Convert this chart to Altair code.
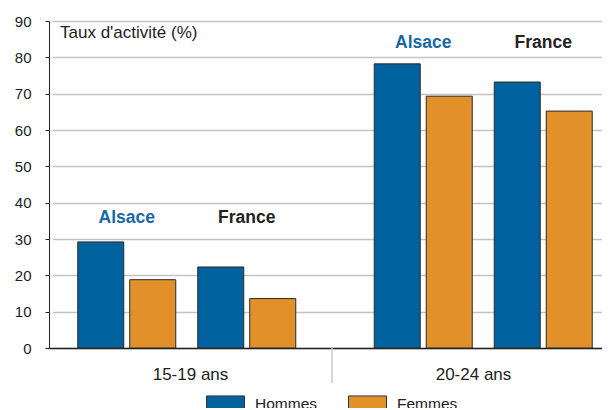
import altair as alt
import pandas as pd

ages = ["15-19 ans", "20-24 ans"]
regions = ["Alsace", "France"]
sexes = ["Hommes", "Femmes"]
# values ordered: (15-19, Alsace), (15-19, France), (20-24, Alsace), (20-24, France)
hommes = [29.2, 22.3, 78.2, 73.2]
femmes = [18.8, 13.6, 69.3, 65.2]
label_y = [35.7, 83.9]  # height of the region labels per age group
y_ticks = [0, 10, 20, 30, 40, 50, 60, 70, 80, 90]

rows = []
i = 0
for a in ages:
    for r in regions:
        rows.append({"age": a, "region": r, "sex": "Hommes", "value": hommes[i]})
        rows.append({"age": a, "region": r, "sex": "Femmes", "value": femmes[i]})
        i += 1
df = pd.DataFrame(rows)

lab = pd.DataFrame([{"age": a, "region": r, "y": label_y[k]}
                    for k, a in enumerate(ages) for r in regions])
sep = pd.DataFrame({"age": ages[1:]})

BLUE = "#00629e"
ORANGE = "#e2902a"
FONT = "Liberation Sans"
W, H = 553, 327
XR = [0, 566]       # the category axis runs past the right edge of the picture
XR_BARS = [3, 569]  # bar clusters sit slightly right of the category bands

region_shift = {"Alsace": -60, "France": 60}
sex_shift = {"Hommes": -26, "Femmes": 26}

xbars = alt.X("age:N", sort=ages, axis=None,
              scale=alt.Scale(domain=ages, range=XR_BARS, paddingInner=0.19,
                              paddingOuter=0.0495))
yaxis = alt.Axis(values=y_ticks, title="Taux d'activité (%)", titleAngle=0,
                 titleAlign="left", titleBaseline="top", titleX=10.5, titleY=3.6,
                 titleFont=FONT, titleFontSize=17,
                 titleFontWeight="normal", titleColor="#222",
                 labelFont=FONT, labelFontSize=15, labelColor="#222",
                 labelPadding=14, tickSize=4, tickColor="#222",
                 domainColor="#222", grid=True, gridColor="#c4c4c4",
                 gridWidth=1.5)
yscale = alt.Scale(domain=[0, 90], nice=False)
color = alt.Color("sex:N", scale=alt.Scale(domain=sexes, range=[BLUE, ORANGE]),
                  legend=alt.Legend(title=None, orient="none", direction="horizontal",
                                    legendX=157, legendY=363.5,
                                    symbolType="M-1,-0.45H1V0.45H-1Z", symbolSize=1444,
                                    symbolStrokeColor="#333", symbolStrokeWidth=1,
                                    labelFont=FONT, labelFontSize=15.5, labelColor="#222",
                                    columnPadding=28, labelOffset=10))

layers = []
for r in regions:
    for s in sexes:
        layers.append(
            alt.Chart(df).transform_filter(
                (alt.datum.sex == s) & (alt.datum.region == r)
            ).mark_bar(width=46, xOffset=region_shift[r] + sex_shift[s],
                       stroke="#2a2a2a", strokeWidth=1).encode(
                x=xbars,
                y=alt.Y("value:Q", stack=None, scale=yscale, axis=yaxis),
                color=color)
        )
for r in regions:
    layers.append(
        alt.Chart(lab).transform_filter(alt.datum.region == r).mark_text(
            font=FONT, fontSize=17.5, fontWeight="bold", baseline="middle",
            xOffset=region_shift[r],
            color="#1a68a3" if r == "Alsace" else "#222").encode(
            x=xbars,
            y=alt.Y("y:Q", scale=yscale, axis=yaxis),
            text=alt.Text("region:N"))
    )

inner = alt.layer(*layers)

rule = alt.Chart(sep).mark_rule(color="#c8c8c8", strokeWidth=1.5).encode(
    x=alt.X("age:N", sort=ages, bandPosition=0, title=None,
            scale=alt.Scale(domain=ages, range=XR, paddingInner=0, paddingOuter=0),
            axis=alt.Axis(labelAngle=0, ticks=False, labelFont=FONT, labelFontSize=17,
                          labelColor="#222", labelPadding=18, domainColor="#222",
                          domainWidth=1.5, grid=False)),
    y=alt.value(H), y2=alt.value(H + 35))

chart = alt.layer(inner, rule).resolve_scale(x="independent").properties(
    width=W, height=H,
    autosize=alt.AutoSizeParams(type="none"),
    padding={"left": 41, "top": 13, "right": 0, "bottom": 60}
).configure_view(strokeWidth=0)

chart.save("out.html", embed_options={"renderer": "svg", "actions": False})
